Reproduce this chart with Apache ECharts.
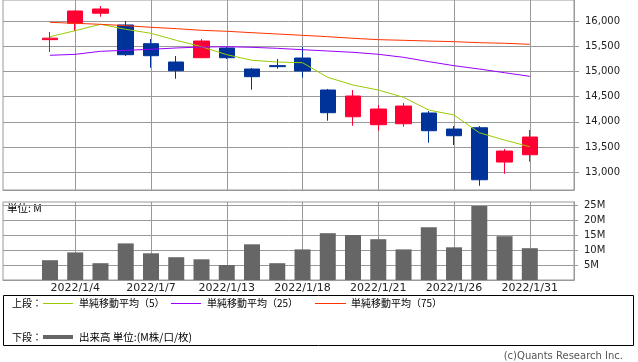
<!DOCTYPE html>
<html><head><meta charset="utf-8">
<script src="https://cdn.jsdelivr.net/npm/echarts@6/dist/echarts.min.js"></script>
<style>html,body{margin:0;padding:0;background:#fff}#c{width:638px;height:362px}</style>
</head><body><div id="c"></div>
<script>
const dates = ['2021/12/30','2022/1/4','2022/1/5','2022/1/6','2022/1/7','2022/1/11','2022/1/12','2022/1/13','2022/1/14','2022/1/17','2022/1/18','2022/1/19','2022/1/20','2022/1/21','2022/1/24','2022/1/25','2022/1/26','2022/1/27','2022/1/28','2022/1/31'];
const opens  = [15630,15954,16154,15921,15550,15187,15272,15465,15048,15115,15266,14632,14102,13944,13963,14176,13858,13884,13204,13349];
const closes = [15660,16198,16238,15332,15312,15014,15603,15272,14896,15095,15009,14182,14513,14255,14314,13825,13726,12853,13422,13700];
const lows   = [15385,15802,16085,15306,15074,14856,15265,15246,14638,15054,14876,14023,13924,13825,13904,13587,13541,12734,12972,13210];
const highs  = [15782,16205,16297,16000,15643,15306,15643,15480,15068,15246,15484,14652,14632,14334,14374,14215,13918,13918,13462,13839];
const ma5  = [15689,15808,15934,15835,15756,15617,15490,15332,15221,15187,15173,14883,14731,14632,14487,14235,14136,13785,13640,13507];
const ma25 = [15320,15339,15399,15419,15439,15465,15484,15490,15478,15458,15431,15405,15379,15340,15280,15194,15114,15048,14975,14903];
const ma75 = [15974,15954,15934,15907,15875,15848,15815,15796,15768,15742,15716,15689,15657,15630,15617,15603,15590,15570,15558,15538];
const volume = [6.6,9.2,5.6,12.2,8.9,7.6,6.9,5.0,11.9,5.6,10.2,15.6,15.0,13.6,10.2,17.6,10.9,24.7,14.6,10.6];
const priceTicks = [13000,13500,14000,14500,15000,15500,16000];
const volumeTicks = [5,10,15,20,25];
const dateTickIdx = [1,4,7,10,13,16,19];

const GRID = '#999';
const CJK = '"Noto Sans CJK JP"';
const xBase = {
  type:'value', min:-1.86, max:20.75,
  axisLine:{show:true, onZero:false, lineStyle:{color:GRID}},
  axisTick:{show:false, customValues:dateTickIdx},
  splitLine:{show:true, lineStyle:{color:GRID}}
};
const chart = echarts.init(document.getElementById('c'));
chart.setOption({
  animation:false,
  backgroundColor:'#fff',
  grid:[
    {left:3, right:64, top:0, height:190, show:true, borderColor:GRID, borderWidth:1},
    {left:3, right:64, top:202, height:78, show:true, borderColor:GRID, borderWidth:1}
  ],
  xAxis:[
    Object.assign({}, xBase, {gridIndex:0, axisLabel:{show:false, customValues:dateTickIdx}}),
    Object.assign({}, xBase, {gridIndex:1, axisLabel:{show:true, customValues:dateTickIdx, margin:3,
      fontSize:11, fontFamily:'DejaVu Sans', color:'#222', formatter:v=>dates[Math.round(v)]||''}})
  ],
  yAxis:[
    {gridIndex:0, type:'value', position:'right', min:12650, max:16416,
     axisLine:{show:true, onZero:false, lineStyle:{color:GRID}},
     axisTick:{show:true, length:5, customValues:priceTicks, lineStyle:{color:GRID}},
     axisLabel:{customValues:priceTicks, margin:11, fontSize:10, fontFamily:'DejaVu Sans', color:'#222',
       formatter:v=>v.toLocaleString('en-US')},
     splitLine:{show:true, lineStyle:{color:GRID}}},
    {gridIndex:1, type:'value', position:'right', min:0, max:26,
     axisLine:{show:true, onZero:false, lineStyle:{color:GRID}},
     axisTick:{show:true, length:4, customValues:volumeTicks, lineStyle:{color:GRID}},
     axisLabel:{customValues:volumeTicks, margin:10, fontSize:10, fontFamily:'DejaVu Sans', color:'#222',
       formatter:v=>v+'M'},
     splitLine:{show:true, lineStyle:{color:GRID}}}
  ],
  series:[
    {type:'candlestick', xAxisIndex:0, yAxisIndex:0, barWidth:16,
     data:dates.map((d,i)=>[i, opens[i], closes[i], lows[i], highs[i]]),
     itemStyle:{color:'#FF0033', color0:'#003399', borderColor:'#FF0033', borderColor0:'#003399', borderWidth:1}},
    {type:'line', name:'単純移動平均(5)', xAxisIndex:0, yAxisIndex:0, showSymbol:false, symbol:'none',
     data:ma5.map((v,i)=>[i,v]), lineStyle:{color:'#99CC00', width:1}},
    {type:'line', name:'単純移動平均(25)', xAxisIndex:0, yAxisIndex:0, showSymbol:false, symbol:'none',
     data:ma25.map((v,i)=>[i,v]), lineStyle:{color:'#9900FF', width:1}},
    {type:'line', name:'単純移動平均(75)', xAxisIndex:0, yAxisIndex:0, showSymbol:false, symbol:'none',
     data:ma75.map((v,i)=>[i,v]), lineStyle:{color:'#FF3300', width:1}},
    {type:'bar', name:'出来高', xAxisIndex:1, yAxisIndex:1, barWidth:16,
     data:volume.map((v,i)=>[i,v]), itemStyle:{color:'#666666'}}
  ],
  graphic:[
    {type:'text', x:7, y:208, style:{text:'単位: M', font:'10.5px '+CJK, fill:'#000', verticalAlign:'middle'}},
    {type:'rect', shape:{x:3.5, y:295.5, width:630, height:50}, style:{fill:'none', stroke:'#000', lineWidth:1}},
    {type:'text', x:12, y:303, style:{text:'上段：', font:'10px '+CJK, fill:'#000', verticalAlign:'middle'}},
    {type:'line', shape:{x1:43, y1:303.5, x2:73, y2:303.5}, style:{stroke:'#99CC00', lineWidth:1}},
    {type:'text', x:79, y:303, style:{text:'単純移動平均（5）', font:'10px '+CJK, fill:'#000', verticalAlign:'middle'}},
    {type:'line', shape:{x1:171, y1:303.5, x2:201, y2:303.5}, style:{stroke:'#9900FF', lineWidth:1}},
    {type:'text', x:207, y:303, style:{text:'単純移動平均（25）', font:'10px '+CJK, fill:'#000', verticalAlign:'middle'}},
    {type:'line', shape:{x1:315, y1:303.5, x2:346, y2:303.5}, style:{stroke:'#FF3300', lineWidth:1}},
    {type:'text', x:351, y:303, style:{text:'単純移動平均（75）', font:'10px '+CJK, fill:'#000', verticalAlign:'middle'}},
    {type:'text', x:12, y:337, style:{text:'下段：', font:'10px '+CJK, fill:'#000', verticalAlign:'middle'}},
    {type:'line', shape:{x1:43, y1:337, x2:73, y2:337}, style:{stroke:'#666666', lineWidth:4}},
    {type:'text', x:79, y:337, style:{text:'出来高 単位:(M株/口/枚)', font:'10.5px '+CJK, fill:'#000', verticalAlign:'middle'}},
    {type:'text', x:623, y:356, style:{text:'(c)Quants Research Inc.', font:'10px "DejaVu Sans"', fill:'#555', align:'right', verticalAlign:'middle'}}
  ]
});
</script></body></html>
